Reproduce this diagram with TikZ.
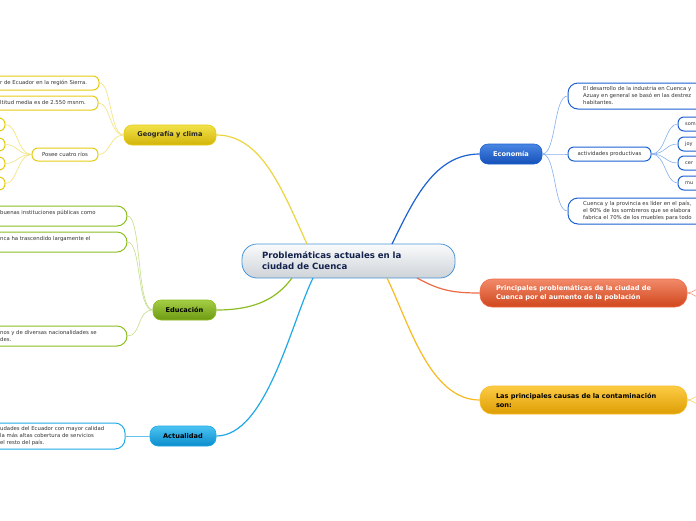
\documentclass[tikz,border=0pt]{standalone}
\usepackage{fontspec}
\setmainfont{DejaVu Sans}
\definecolor{ycol}{HTML}{E6CB12}
\definecolor{ylight}{HTML}{F2E27A}
\definecolor{ytop}{HTML}{F2E24A}
\definecolor{ybot}{HTML}{D2B40A}
\definecolor{gcol}{HTML}{8CBE22}
\definecolor{glight}{HTML}{C4DE8A}
\definecolor{gtop}{HTML}{A4CE44}
\definecolor{gbot}{HTML}{6C9A12}
\definecolor{lbcol}{HTML}{1FA9E6}
\definecolor{lbtop}{HTML}{4CC4F2}
\definecolor{lbbot}{HTML}{0A8CCC}
\definecolor{bcol}{HTML}{1C62D2}
\definecolor{blight}{HTML}{86B0EE}
\definecolor{btop}{HTML}{4A86E2}
\definecolor{bbot}{HTML}{1450B8}
\definecolor{ocol}{HTML}{EE6A46}
\definecolor{otop}{HTML}{F28A6A}
\definecolor{obot}{HTML}{D0461C}
\definecolor{gdcol}{HTML}{F8BA22}
\definecolor{gdtop}{HTML}{FCCB44}
\definecolor{gdbot}{HTML}{DE9E04}
\definecolor{ccol}{HTML}{4A94D8}
\definecolor{ctop}{HTML}{FAFBFC}
\definecolor{cbot}{HTML}{CED3D8}
\definecolor{navy}{HTML}{14234E}
\definecolor{txtgray}{HTML}{333333}
\begin{document}
\begin{tikzpicture}[x=1pt,y=-1pt,
  leaf/.style={draw, rounded corners=6pt, line width=1pt, fill=white, inner sep=0pt, minimum height=14pt},
  bigleaf/.style={leaf, rounded corners=10pt, minimum height=20pt},
  ltxt/.style={font=\fontsize{5.35}{7}\selectfont, text=txtgray, inner sep=0pt, align=left},
  stxt/.style={font=\fontsize{5}{7}\selectfont, text=txtgray, inner sep=0pt, align=left},
  topic/.style={draw, rounded corners=8pt, line width=0.6pt, inner sep=0pt, minimum height=20pt, font=\fontsize{6.6}{8}\selectfont\bfseries},
  wide/.style={topic, rounded corners=12pt, minimum height=28pt, minimum width=207pt, align=left, text width=175pt, inner xsep=16pt, font=\fontsize{6.6}{9}\selectfont\bfseries},
  mainlink/.style={line width=1.2pt},
  sublink/.style={line width=0.6pt}
]
\clip (0,0) rectangle (696,520);
\fill[white] (0,0) rectangle (696,520);

% ---------- attachment points on the central topic ----------
\coordinate (cYel) at (307,244);
\coordinate (cBlu) at (392,244);
\coordinate (cGrn) at (292,278);
\coordinate (cLbl) at (313,278);
\coordinate (cOra) at (417,278);
\coordinate (cGld) at (387,278);

% ---------- central ----------
\node[draw=ccol, line width=0.8pt, rounded corners=15pt, top color=ctop, bottom color=cbot,
      minimum width=213pt, minimum height=34pt, text width=173pt, inner xsep=20pt, align=left,
      font=\fontsize{8.6}{11}\selectfont\bfseries, text=navy] (c) at (348.5,261)
      {Problemáticas actuales en la\\ciudad de Cuenca};

% ---------- main topics ----------
\node[topic, draw=ycol, top color=ytop, bottom color=ybot, minimum width=92pt, text=black!85] (geo) at (170,135) {Geografía y clima};
\node[topic, draw=gcol, top color=gtop, bottom color=gbot, minimum width=63pt, text=black] (edu) at (184.5,310) {Educación};
\node[topic, draw=lbcol, top color=lbtop, bottom color=lbbot, minimum width=66pt, text=black] (act) at (183,436) {Actualidad};
\node[topic, draw=bcol, top color=btop, bottom color=bbot, minimum width=62pt, text=white] (eco) at (511,154) {Economía};
\node[wide, draw=ocol, top color=otop, bottom color=obot, text=white] (prin) at (583.5,293) {Principales problemáticas de la ciudad de\\Cuenca por el aumento de la población};
\node[wide, draw=gdcol, top color=gdtop, bottom color=gdbot, text=black] (caus) at (583.5,400) {Las principales causas de la contaminación\\son:};

% main connectors
\draw[mainlink, draw=ycol!80] (geo.east) .. controls +(45,0) and +(-25,-55) .. (cYel);
\draw[mainlink, draw=bcol] (cBlu) .. controls +(22,-45) and +(-45,0) .. (eco.west);
\draw[mainlink, draw=gcol] (cGrn) .. controls +(-15,20) and +(40,0) .. (edu.east);
\draw[mainlink, draw=lbcol] (cLbl) .. controls +(-22,45) and +(50,0) .. (act.east);
\draw[mainlink, draw=ocol] (cOra) .. controls +(22,12) and +(-28,0) .. (prin.west);
\draw[mainlink, draw=gdcol] (cGld) .. controls +(22,45) and +(-50,0) .. (caus.west);

% off-screen children of the right topics
\coordinate (p1) at (702,287);
\coordinate (p2) at (702,299);
\coordinate (q1) at (702,394);
\coordinate (q2) at (702,406);
\draw[sublink, draw=ocol!70] (prin.east) .. controls +(6,0) and +(-4,0) .. (p1);
\draw[sublink, draw=ocol!70] (prin.east) .. controls +(6,0) and +(-4,0) .. (p2);
\draw[sublink, draw=gdcol!70] (caus.east) .. controls +(6,0) and +(-4,0) .. (q1);
\draw[sublink, draw=gdcol!70] (caus.east) .. controls +(6,0) and +(-4,0) .. (q2);

% ---------- Geografía children ----------
\node[leaf, draw=ycol, minimum width=159pt] (g1) at (19.5,83) {};
\node[ltxt, anchor=west] (g1t) at (0,83) {r de Ecuador en la región Sierra.};
\node[leaf, draw=ycol, minimum width=158pt] (g2) at (19,103) {};
\node[ltxt, anchor=west] (g2t) at (0,103) {ltitud media es de 2.550 msnm.};
\node[leaf, draw=ycol, minimum width=66pt, minimum height=13pt, ltxt] (g3) at (65,154.5) {Posee cuatro ríos};
\node[leaf, draw=ycol, minimum width=45pt, minimum height=13pt] (r1) at (-17.5,124.5) {};
\node[leaf, draw=ycol, minimum width=45pt, minimum height=13pt] (r2) at (-17.5,144.5) {};
\node[leaf, draw=ycol, minimum width=45pt, minimum height=13pt] (r3) at (-17.5,163.5) {};
\node[leaf, draw=ycol, minimum width=45pt, minimum height=13pt] (r4) at (-17.5,183.5) {};
\foreach \n in {g1,g2,g3}
  \draw[sublink, draw=ylight] (geo.west) .. controls +(-14,0) and +(12,0) .. (\n.east);
\foreach \n in {r1,r2,r3,r4}
  \draw[sublink, draw=ylight] (g3.west) .. controls +(-14,0) and +(12,0) .. (\n.east);

% ---------- Educación children ----------
\node[bigleaf, draw=gcol, minimum width=187pt] (e1) at (33.5,216) {};
\node[ltxt, anchor=west] (e1t) at (0,213) {buenas instituciones públicas como};
\node[bigleaf, draw=gcol, minimum width=187pt] (e2) at (33.5,242) {};
\node[ltxt, anchor=west] (e2t) at (0,239) {nca ha trascendido largamente el};
\node[bigleaf, draw=gcol, minimum width=187pt] (e3) at (33.5,336) {};
\node[ltxt, anchor=west] (e3t) at (0,336) {nos y de diversas nacionalidades se\\des.};
\foreach \n in {e1,e2,e3}
  \draw[sublink, draw=glight] (edu.west) .. controls +(-16,0) and +(14,0) .. (\n.east);

% ---------- Actualidad child ----------
\node[bigleaf, draw=lbcol, minimum width=185pt, minimum height=26pt] (a1) at (32.5,436) {};
\node[ltxt, anchor=west] (a1t) at (0,436) {udades del Ecuador con mayor calidad\\la más altas cobertura de servicios\\ el resto del país.};
\draw[sublink, draw=lbcol!70] (act.west) -- (a1.east);

% ---------- Economía children ----------
\node[bigleaf, draw=bcol, minimum width=192pt, minimum height=26pt] (x1) at (664,96) {};
\node[ltxt, anchor=west] (x1t) at (583,96) {El desarrollo de la industria en Cuenca y\\Azuay en general se basó en las destrez\\habitantes.};
\node[leaf, draw=bcol, minimum width=83pt, ltxt] (x2) at (609.5,154) {actividades productivas};
\node[bigleaf, draw=bcol, minimum width=192pt, minimum height=26pt] (x3) at (664,211) {};
\node[ltxt, anchor=west] (x3t) at (583,211) {Cuenca y la provincia es líder en el país,\\el 90\% de los sombreros que se elabora\\fabrica el 70\% de los muebles para todo};
\node[leaf, draw=bcol, minimum width=52pt] (s1) at (704,124) {};
\node[stxt, anchor=west] (s1t) at (685,124) {som};
\node[leaf, draw=bcol, minimum width=52pt] (s2) at (704,144) {};
\node[stxt, anchor=west] (s2t) at (685,144) {joy};
\node[leaf, draw=bcol, minimum width=52pt] (s3) at (704,163) {};
\node[stxt, anchor=west] (s3t) at (685,163) {cer};
\node[leaf, draw=bcol, minimum width=52pt] (s4) at (704,183) {};
\node[stxt, anchor=west] (s4t) at (685,183) {mu};
\foreach \n in {x1,x2,x3}
  \draw[sublink, draw=blight] (eco.east) .. controls +(14,0) and +(-14,0) .. (\n.west);
\foreach \n in {s1,s2,s3,s4}
  \draw[sublink, draw=blight] (x2.east) .. controls +(14,0) and +(-12,0) .. (\n.west);
\end{tikzpicture}
\end{document}
